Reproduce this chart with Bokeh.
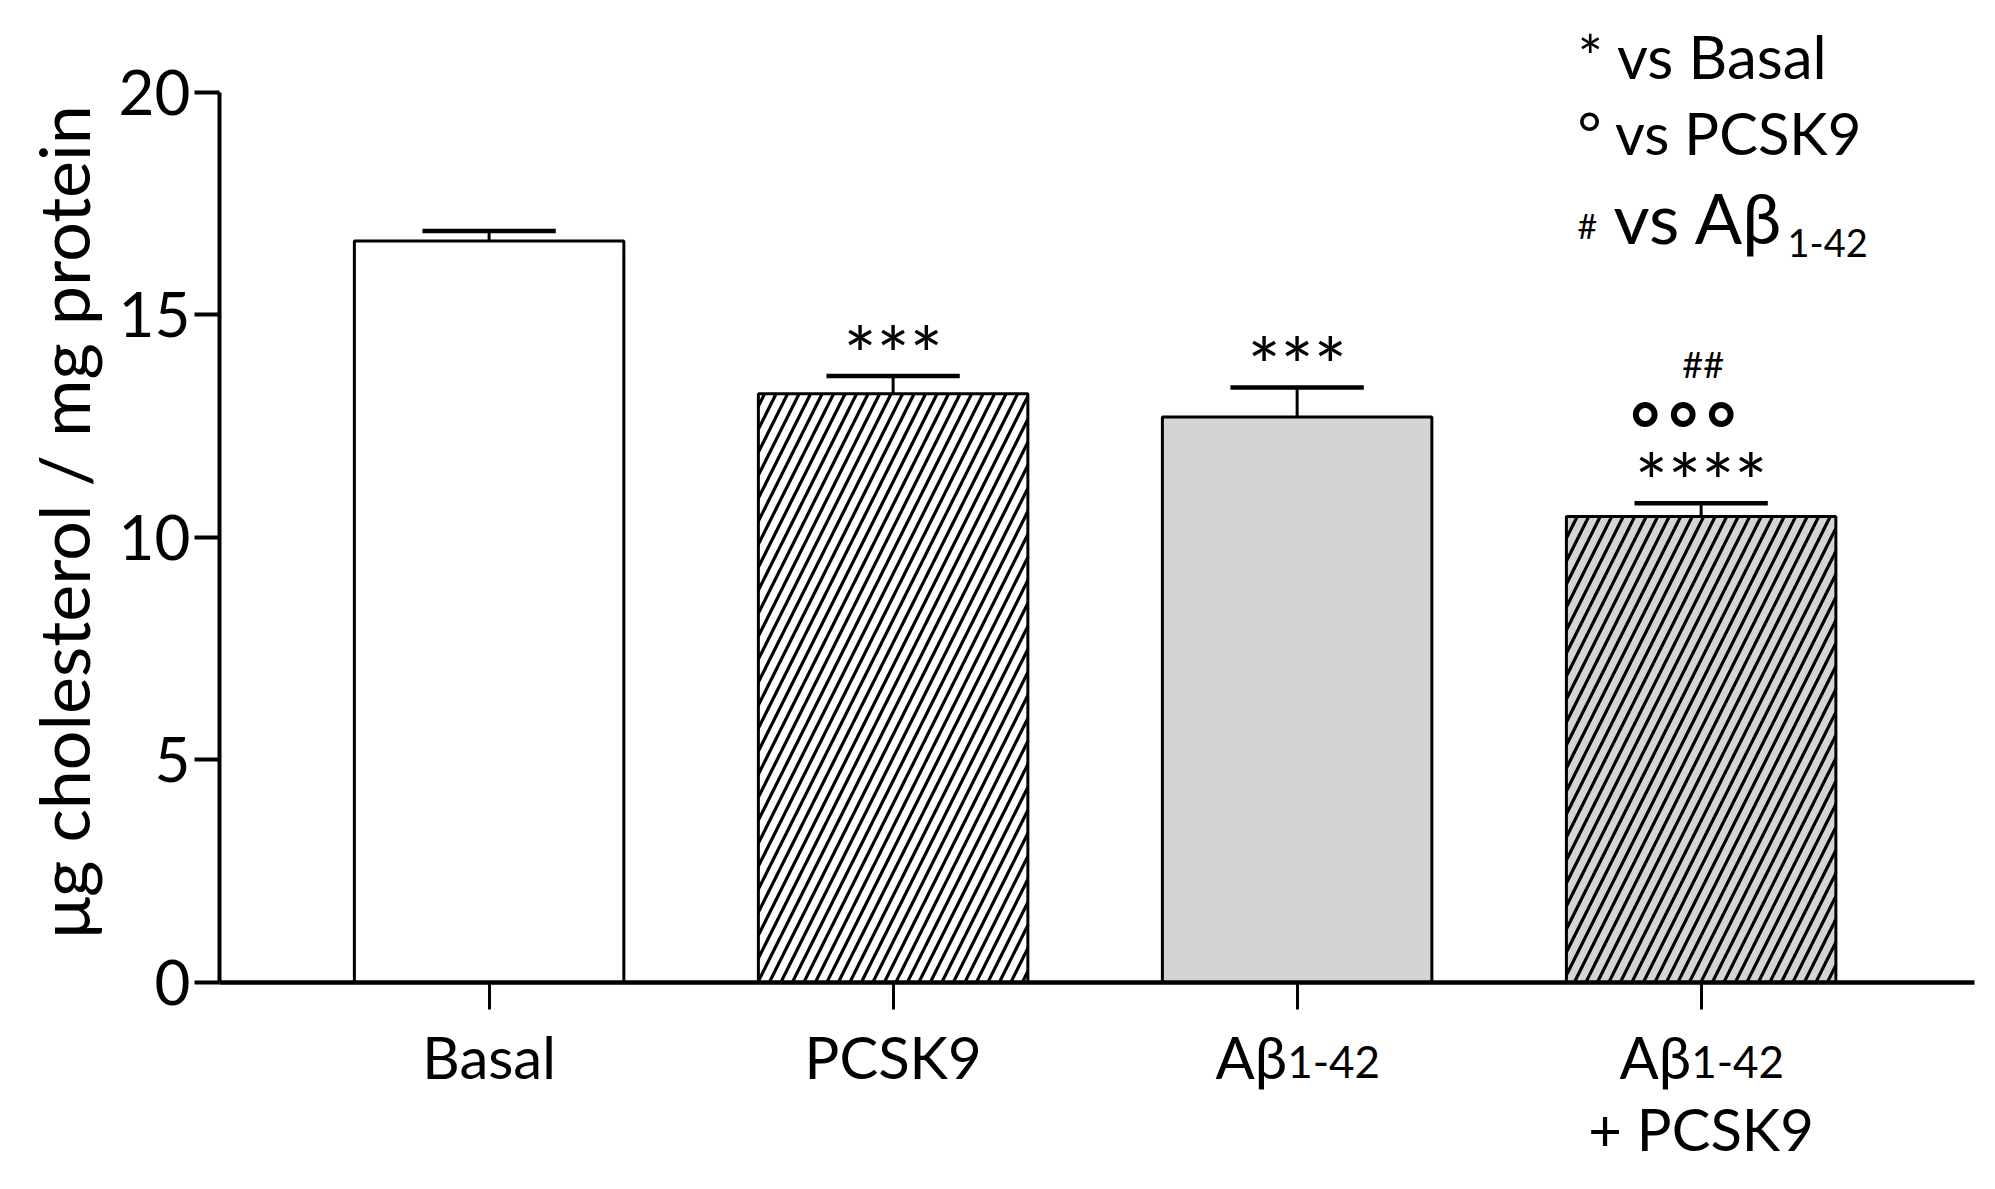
import math
from bokeh.plotting import figure
from bokeh.models import Label, FixedTicker, Range1d, ColumnDataSource, LinearAxis
from bokeh.embed import file_html
from bokeh.resources import INLINE

# ---- data ----
groups = ["Basal", "PCSK9", "Aβ1-42", "Aβ1-42 + PCSK9"]
means = [16.66, 13.23, 12.71, 10.47]
errors = [0.23, 0.40, 0.66, 0.30]
sig_marks = [[], ["***"], ["***"], ["****", "°°°", "##"]]
y_ticks = [0, 5, 10, 15, 20]
y_title = "μg cholesterol / mg protein"
legend_lines = ["* vs Basal", "° vs PCSK9"]

# ---- styles ----
fill_colors = ["white", "white", "#d4d4d4", "#d4d4d4"]
hatches = [" ", "/", " ", "/"]
FONT = "Lato"

xs = [i + 1 for i in range(len(groups))]
caps = [m + e for m, e in zip(means, errors)]

src = ColumnDataSource(dict(x=xs, top=means, cap=caps, fill=fill_colors, hatch=hatches,
                            cl=[x - 0.165 for x in xs], cr=[x + 0.165 for x in xs]))

W, H = 1979, 1173
p = figure(width=W, height=H, x_range=Range1d(-0.2094, 4.689), y_range=Range1d(-4.292, 22.067),
           output_backend="svg", toolbar_location=None,
           x_axis_type=None, y_axis_type=None,
           min_border_left=0, min_border_right=0, min_border_top=0, min_border_bottom=0)
p.outline_line_color = None
p.grid.visible = False
p.background_fill_color = "white"

X_LEFT, X_RIGHT = 0.3327, 4.6767

p.vbar(x="x", width=0.667, top="top", bottom=0, source=src, fill_color="fill",
       line_color="black", line_width=3, hatch_pattern="hatch", hatch_color="black",
       hatch_weight=3.2, hatch_scale=23)
p.segment(x0="x", y0="top", x1="x", y1="cap", source=src, line_color="black", line_width=3)
p.segment(x0="cl", y0="cap", x1="cr", y1="cap", source=src, line_color="black", line_width=4.5)

# axes
ya = LinearAxis(fixed_location=X_LEFT, bounds=(y_ticks[0], y_ticks[-1]))
ya.ticker = FixedTicker(ticks=y_ticks)
ya.major_tick_out = 25
ya.major_tick_in = 0
ya.minor_tick_out = 0
ya.minor_tick_in = 0
ya.axis_line_width = 4
ya.major_tick_line_width = 4
ya.major_label_text_font = FONT
ya.major_label_text_font_size = "62px"
ya.major_label_text_color = "black"
ya.major_label_standoff = 4
p.add_layout(ya, "left")

xa = LinearAxis(fixed_location=0, bounds=(X_LEFT, X_RIGHT))
xa.ticker = FixedTicker(ticks=xs)
xa.major_tick_out = 27
xa.major_tick_in = 0
xa.minor_tick_out = 0
xa.minor_tick_in = 0
xa.axis_line_width = 4.5
xa.major_tick_line_width = 3
xa.major_label_overrides = {x: "" for x in xs}
p.add_layout(xa, "below")

UPP = 44.5   # px per data unit
BL = 0.40    # label anchor sits this many em above the glyph baseline

def lab(y, size, **kw):
    base = dict(text_font=FONT, text_color="black", text_baseline="alphabetic")
    base.update(kw)
    px = float(size[:-2])
    p.add_layout(Label(y=y + BL * px / UPP, text_font_size=size, **base))

# y-axis title (rotated)
p.add_layout(Label(x=90 - BL * 70, x_units="screen", y=10.35, angle=math.pi / 2,
                   text=y_title, text_font=FONT, text_font_size="70px", text_color="black",
                   text_align="center", text_baseline="alphabetic"))

ROW1 = -2.18
ROW2 = -3.80
for x, g in zip(xs, groups):
    if "Aβ" in g:
        lab(ROW1, "58px", x=x, x_offset=-10, text="Aβ", text_align="right")
        lab(ROW1, "44px", x=x, x_offset=-10, text="1-42", text_align="left")
        if "+" in g:
            lab(ROW2, "58px", x=x, text="+ " + g.split("+ ")[1], text_align="center")
    else:
        lab(ROW1, "58px", x=x, text=g, text_align="center")

# significance marks: (size, glyph-centre height in em, font, style, x shift px)
mark_style = {"*": ("78px", 0.57, FONT, "normal", 0),
              "°": ("76px", 0.62, "DejaVu Sans", "bold", -18),
              "#": ("36px", 0.35, FONT, "normal", 2)}
for x, c, marks in zip(xs, caps, sig_marks):
    for j, m in enumerate(marks):
        size, frac, font, style, dx = mark_style[m[0]]
        center = c + 0.80 + j * 1.14
        base_y = center - frac * float(size[:-2]) / UPP
        lab(base_y, size, x=x, x_offset=dx, text=m, text_align="center",
            text_font=font, text_font_style=style)

# legend text at top right
lab(20.29, "60px", x=1577, x_units="screen", text=legend_lines[0], text_align="left")
lab(18.57, "58px", x=1577, x_units="screen", text=legend_lines[1], text_align="left")
lab(16.70, "34px", x=1577, x_units="screen", text="#", text_align="left")
lab(16.58, "70px", x=1613, x_units="screen", text="vs Aβ", text_align="left")
lab(16.27, "38px", x=1787, x_units="screen", text="1-42", text_align="left")

open("out.html", "w").write(file_html(p, INLINE))
